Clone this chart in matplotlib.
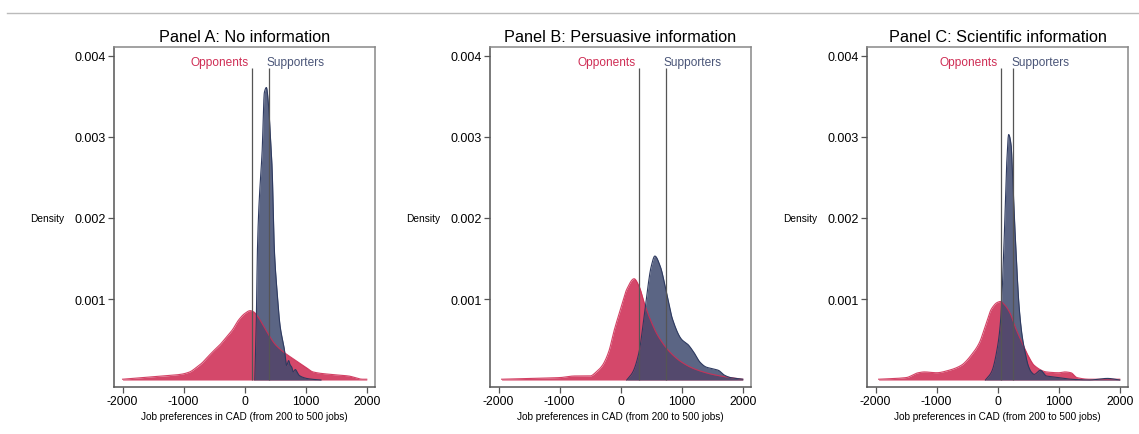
import matplotlib
matplotlib.use("Agg")
import matplotlib.pyplot as plt
from matplotlib.lines import Line2D
import numpy as np

plt.rcParams['font.family'] = ['Liberation Sans', 'DejaVu Sans']

titles = ["Panel A: No information", "Panel B: Persuasive information", "Panel C: Scientific information"]

# Panel A
a_opp_x = [-2000, -1500, -1050, -900, -800, -700, -600, -510, -400, -300, -200, -100, 0, 90, 150, 200, 300, 400, 500, 630, 800, 1000, 1120, 1400, 1700, 1935, 2000]
a_opp_y = [0.00001, 0.00004, 0.00007, 0.0001, 0.00015, 0.00021, 0.00029, 0.00036, 0.00044, 0.00053, 0.00062, 0.00074, 0.00082, 0.000856, 0.00084, 0.0008, 0.00068, 0.00055, 0.00044, 0.00035, 0.00026, 0.00016, 0.0001, 0.00007, 0.00005, 0.00001, 0.00001]
a_sup_x = [166, 190, 209, 231, 260, 285, 323, 356, 390, 422, 450, 487, 530, 580, 650, 688, 720, 742, 770, 796, 830, 851, 890, 932, 1013, 1100, 1250]
a_sup_y = [0.0, 0.0007, 0.0016, 0.0021, 0.0025, 0.0028, 0.00355, 0.00361, 0.0034, 0.003, 0.0026, 0.0016, 0.0011, 0.00067, 0.00038, 0.00018, 0.00024, 0.00019, 0.00016, 0.0001, 0.00013, 0.00011, 0.00006, 0.00004, 0.00002, 0.00001, 0.0]
a_lines = [122, 400]

# Panel B
b_opp_x = [-1950, -1500, -1000, -750, -500, -400, -300, -200, -100, 0, 100, 220, 300, 400, 500, 600, 800, 1000, 1200, 1500, 1800, 2000]
b_opp_y = [0.00001, 0.00002, 0.00003, 0.00005, 0.00005, 0.0001, 0.00018, 0.00034, 0.00063, 0.00088, 0.00112, 0.00125, 0.00116, 0.00092, 0.00072, 0.00056, 0.00035, 0.00022, 0.00014, 0.00007, 0.00003, 0.00001]
b_sup_x = [100, 200, 300, 400, 500, 560, 650, 750, 850, 1000, 1100, 1200, 1300, 1400, 1500, 1600, 1700, 1800, 2000]
b_sup_y = [0.0, 0.0001, 0.00034, 0.00088, 0.0014, 0.00153, 0.0014, 0.00108, 0.00075, 0.0005, 0.00044, 0.00034, 0.00022, 0.00016, 0.00014, 0.00012, 0.00006, 0.00003, 0.00001]
b_lines = [295, 738]

# Panel C
c_opp_x = [-1950, -1500, -1300, -1200, -1000, -800, -600, -400, -300, -200, -100, 0, 50, 100, 200, 300, 400, 500, 600, 800, 1000, 1100, 1200, 1300, 1500, 2000]
c_opp_y = [0.00001, 0.00003, 0.00009, 0.0001, 0.00009, 0.00012, 0.00018, 0.00034, 0.00046, 0.00067, 0.00088, 0.00096, 0.00097, 0.00094, 0.00083, 0.00063, 0.00046, 0.0003, 0.00018, 0.0001, 0.00009, 0.0001, 0.00009, 0.00003, 0.00001, 0.00001]
c_sup_x = [-200, -100, 0, 50, 100, 150, 180, 220, 250, 300, 350, 400, 450, 500, 550, 600, 700, 800, 900, 1000, 1200, 1500, 1800, 2000]
c_sup_y = [0.0, 0.0001, 0.00042, 0.00075, 0.0016, 0.0027, 0.00303, 0.0029, 0.0024, 0.0016, 0.00092, 0.00055, 0.00034, 0.00018, 0.0001, 0.00007, 0.00012, 0.00005, 0.00004, 0.00003, 0.00001, 0.0, 0.00002, 0.0]
c_lines = [58, 255]

panels = [
    (a_opp_x, a_opp_y, a_sup_x, a_sup_y, a_lines),
    (b_opp_x, b_opp_y, b_sup_x, b_sup_y, b_lines),
    (c_opp_x, c_opp_y, c_sup_x, c_sup_y, c_lines),
]

yticks = [0.001, 0.002, 0.003, 0.004]
ytick_labels = ["0.001", "0.002", "0.003", "0.004"]
xticks = [-2000, -1000, 0, 1000, 2000]
xtick_labels = ["-2000", "-1000", "0", "1000", "2000"]


def pchip(x, y, n=600):
    """Monotone cubic (shape-preserving) curve through the read points."""
    x = np.asarray(x, float)
    y = np.asarray(y, float)
    h = np.diff(x)
    d = np.diff(y) / h
    m = np.zeros_like(y)
    for k in range(1, len(x) - 1):
        if d[k - 1] * d[k] > 0:
            w1 = 2 * h[k] + h[k - 1]
            w2 = h[k] + 2 * h[k - 1]
            m[k] = (w1 + w2) / (w1 / d[k - 1] + w2 / d[k])
    m[0] = d[0]
    m[-1] = d[-1]
    xs = np.linspace(x[0], x[-1], n)
    idx = np.clip(np.searchsorted(x, xs) - 1, 0, len(x) - 2)
    t = (xs - x[idx]) / h[idx]
    h00 = 2 * t**3 - 3 * t**2 + 1
    h10 = t**3 - 2 * t**2 + t
    h01 = -2 * t**3 + 3 * t**2
    h11 = t**3 - t**2
    ys = h00 * y[idx] + h10 * h[idx] * m[idx] + h01 * y[idx + 1] + h11 * h[idx] * m[idx + 1]
    return xs, np.clip(ys, 0, None)


RED = "#CF2E55"
NAVY = "#3E4A6E"
W, H = 1139, 435
fig = plt.figure(figsize=(W / 100, H / 100), dpi=100)

lefts = [114, 490, 867]
for i, (ox, oy, sx, sy, lines) in enumerate(panels):
    ax = fig.add_axes([lefts[i] / W, 1 - 388 / H, 261 / W, 340 / H])
    oxs, oys = pchip(ox, oy)
    sxs, sys_ = pchip(sx, sy)
    ax.fill_between(oxs, oys, 0, color=RED, alpha=0.88, lw=0)
    ax.plot(oxs, oys, color=RED, lw=0.8, alpha=0.9)
    ax.fill_between(sxs, sys_, 0, color=NAVY, alpha=0.85, lw=0)
    ax.plot(sxs, sys_, color="#2E3A60", lw=0.8)
    ax.vlines(lines, 0, 0.00385, color="#555555", lw=0.9)
    ax.annotate("Opponents", (lines[0], 0.00392), xytext=(-2.5, 0), textcoords="offset points",
                ha="right", va="center", color=RED, fontsize=8.6)
    ax.annotate("Supporters", (lines[1], 0.00392), xytext=(-1.5, 0), textcoords="offset points",
                ha="left", va="center", color="#4A5578", fontsize=8.6)
    ax.set_xlim(-2140, 2135)
    ax.set_ylim(-0.000086, 0.00411)
    ax.set_yticks(yticks)
    ax.set_yticklabels(ytick_labels, fontsize=9)
    ax.set_xticks(xticks)
    ax.set_xticklabels(xtick_labels, fontsize=8.7)
    ax.tick_params(direction="out", length=4, width=0.9, color="#555555", pad=2)
    for s in ax.spines.values():
        s.set_color("#888888")
        s.set_linewidth(1.1)
    ax.spines["left"].set_color("#555555")
    ax.spines["bottom"].set_color("#555555")
    ax.set_title(titles[i], fontsize=11.7, pad=4)
    ax.set_xlabel("Job preferences in CAD (from 200 to 500 jobs)", fontsize=7.2, labelpad=3)
    ax.text(-67 / 261, 0.497, "Density", transform=ax.transAxes, ha="center", va="center", fontsize=7.3)

fig.add_artist(Line2D([7 / W, 1.0], [1 - 14 / H, 1 - 14 / H], color="#BBBBBB", lw=1))
fig.savefig("out.png", dpi=100)
